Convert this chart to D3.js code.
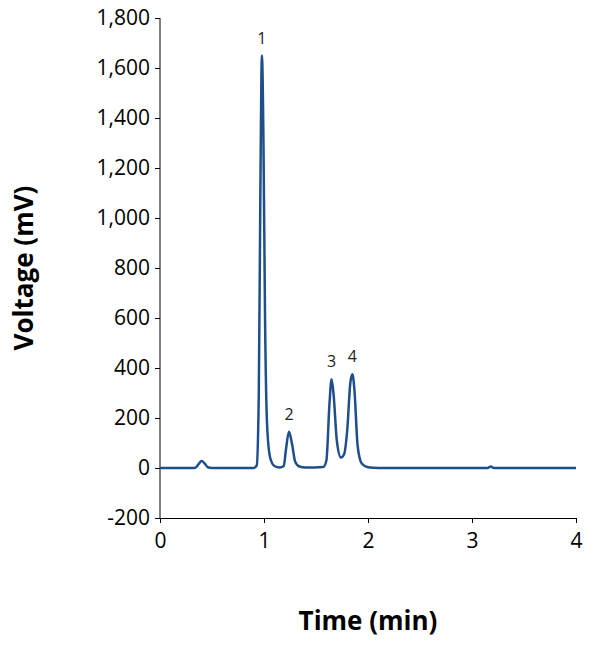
<!DOCTYPE html>
<html>
<head>
<meta charset="utf-8">
<script src="https://cdn.jsdelivr.net/npm/d3@7"></script>
<style>
  body { margin: 0; background: #fff; }
  text { font-family: "Open Sans", "Liberation Sans", sans-serif; }
</style>
</head>
<body>
<svg id="chart" width="610" height="658"></svg>
<script>
// chromatogram points: [time (min), voltage (mV)]
const trace = [
  [0, 0], [0.30, 0], [0.34, 1], [0.37, 15], [0.40, 28], [0.43, 18], [0.46, 3], [0.50, 0],
  [0.90, 0], [0.93, 10], [0.95, 300], [0.965, 1100], [0.98, 1650], [0.995, 1300],
  [1.01, 600], [1.03, 170], [1.06, 40], [1.10, 8], [1.15, 2],
  [1.19, 8], [1.21, 70], [1.24, 145], [1.27, 95], [1.30, 25], [1.34, 6], [1.40, 2],
  [1.57, 4], [1.60, 30], [1.63, 260], [1.65, 355], [1.67, 290], [1.70, 110],
  [1.74, 42], [1.77, 55], [1.80, 150], [1.83, 340], [1.85, 375], [1.87, 310],
  [1.90, 90], [1.94, 18], [2.00, 3], [2.10, 0],
  [3.15, 0], [3.18, 6], [3.21, 0], [4, 0]
];
const peakLabels = [
  { label: '1', t: 0.98, v: 1650 },
  { label: '2', t: 1.24, v: 145 },
  { label: '3', t: 1.65, v: 355 },
  { label: '4', t: 1.85, v: 375 }
];
const xTicks = [0, 1, 2, 3, 4];
const yTicks = d3.range(-200, 1801, 200);

const margin = { left: 160, top: 18, right: 34, bottom: 140 };
const svg = d3.select('#chart');
const x = d3.scaleLinear().domain([0, 4]).range([margin.left, 610 - margin.right]);
const y = d3.scaleLinear().domain([-200, 1800]).range([658 - margin.bottom, margin.top]);

const fmt = d3.format(',');
const yAxis = svg.append('g').attr('transform', `translate(${margin.left},0)`)
  .call(d3.axisLeft(y).tickValues(yTicks).tickFormat(d => fmt(d).replace('\u2212', '-'))
    .tickSize(5).tickPadding(5));
const xAxis = svg.append('g').attr('transform', `translate(0,${y(-200)})`)
  .call(d3.axisBottom(x).tickValues(xTicks).tickFormat(d3.format('d')).tickSize(5).tickPadding(10));
[xAxis, yAxis].forEach(a => {
  a.selectAll('path, line').attr('stroke', '#000').attr('stroke-width', 1);
  a.selectAll('text').attr('font-size', 21).attr('fill', '#000');
});
yAxis.select('.domain').attr('d', `M0,${y(1800)}V${y(-200)}`);

svg.append('path').datum(trace)
  .attr('fill', 'none').attr('stroke', '#1f4e8c').attr('stroke-width', 2.5)
  .attr('d', d3.line().x(d => x(d[0])).y(d => y(d[1])).curve(d3.curveMonotoneX));

svg.selectAll('.pk').data(peakLabels).join('text')
  .attr('x', d => x(d.t)).attr('y', d => y(d.v) - 12)
  .attr('text-anchor', 'middle').attr('font-size', 16).attr('fill', '#222')
  .text(d => d.label);

svg.append('text').attr('x', x(2)).attr('y', 630).attr('text-anchor', 'middle')
  .attr('font-size', 26).attr('font-weight', 'bold').text('Time (min)');
svg.append('text').attr('transform', `translate(33,${y(800)}) rotate(-90)`)
  .attr('text-anchor', 'middle').attr('font-size', 26).attr('font-weight', 'bold')
  .text('Voltage (mV)');
</script>
</body>
</html>
